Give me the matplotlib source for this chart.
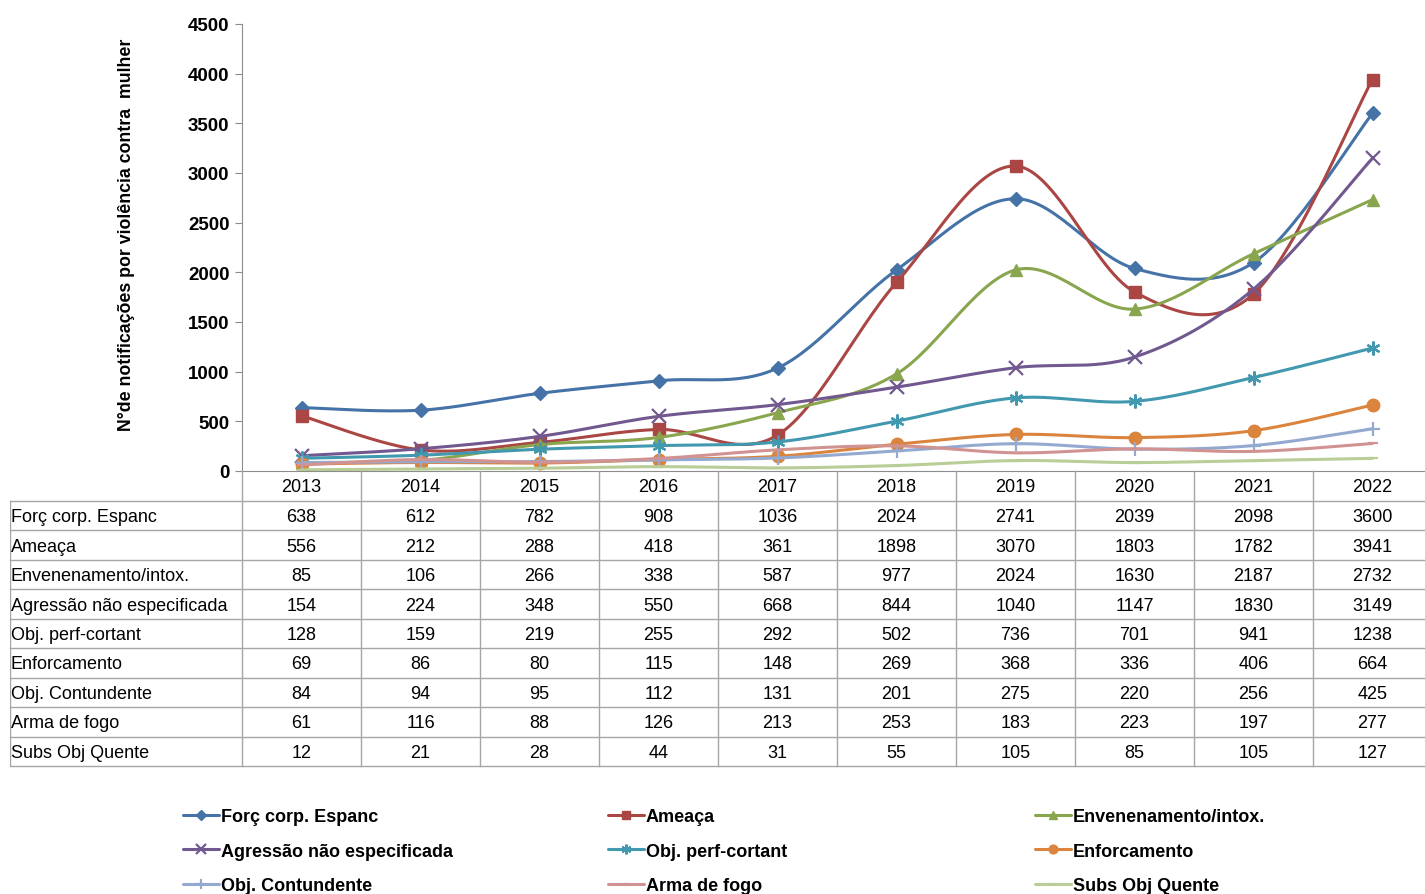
import numpy as np
import matplotlib.pyplot as plt

plt.rcParams['font.family'] = ['Liberation Sans', 'DejaVu Sans']

anos = ['2013', '2014', '2015', '2016', '2017', '2018', '2019', '2020', '2021', '2022']

forc_corp = [638, 612, 782, 908, 1036, 2024, 2741, 2039, 2098, 3600]
ameaca = [556, 212, 288, 418, 361, 1898, 3070, 1803, 1782, 3941]
envenenamento = [85, 106, 266, 338, 587, 977, 2024, 1630, 2187, 2732]
agressao = [154, 224, 348, 550, 668, 844, 1040, 1147, 1830, 3149]
perf_cortant = [128, 159, 219, 255, 292, 502, 736, 701, 941, 1238]
enforcamento = [69, 86, 80, 115, 148, 269, 368, 336, 406, 664]
contundente = [84, 94, 95, 112, 131, 201, 275, 220, 256, 425]
arma_fogo = [61, 116, 88, 126, 213, 253, 183, 223, 197, 277]
subs_quente = [12, 21, 28, 44, 31, 55, 105, 85, 105, 127]

nomes = ['Forç corp. Espanc', 'Ameaça', 'Envenenamento/intox.',
         'Agressão não especificada', 'Obj. perf-cortant', 'Enforcamento',
         'Obj. Contundente', 'Arma de fogo', 'Subs Obj Quente']
series = [forc_corp, ameaca, envenenamento, agressao, perf_cortant,
          enforcamento, contundente, arma_fogo, subs_quente]

cores = ['#4572A7', '#AA4643', '#89A54E', '#71588F', '#4198AF',
         '#DB843D', '#93A9CF', '#D19392', '#B9CD96']
marcadores = ['D', 's', '^', 'x', (6, 2, 0), 'o', '+', '_', '_']
tamanhos = [7.5, 8.5, 8.5, 10, 10, 9, 10, 7, 7]


def suavizar(y, n=30):
    # curva suave tipo Excel (Bezier cúbica pelos pontos vizinhos)
    x = np.arange(len(y), dtype=float)
    p = np.column_stack([x, np.asarray(y, dtype=float)])
    ext = np.vstack([p[0], p, p[-1]])
    t = np.linspace(0, 1, n, endpoint=False)[:, None]
    pts = []
    for i in range(len(p) - 1):
        p0, p1, p2, p3 = ext[i], ext[i + 1], ext[i + 2], ext[i + 3]
        c1 = p1 + (p2 - p0) / 6
        c2 = p2 - (p3 - p1) / 6
        seg = ((1 - t) ** 3) * p1 + 3 * ((1 - t) ** 2) * t * c1 \
            + 3 * (1 - t) * t ** 2 * c2 + t ** 3 * p2
        pts.append(seg)
    pts.append(p[-1][None, :])
    pts = np.vstack(pts)
    return pts[:, 0], pts[:, 1], n


fig = plt.figure(figsize=(14.25, 8.95), dpi=100)
W, H = 1425, 895
x0, x1 = 242, 1432
ytop, ybot = 25, 472
ax = fig.add_axes([x0 / W, 1 - ybot / H, (x1 - x0) / W, (ybot - ytop) / H])

for nome, vals, cor, mk, ms in zip(nomes, series, cores, marcadores, tamanhos):
    xs, ys, n = suavizar(vals)
    fino = mk in ('x', '+', '_') or isinstance(mk, tuple)
    ax.plot(xs, ys, color=cor, lw=2.2, marker=mk, markersize=ms,
            markevery=n, markeredgewidth=1.6 if fino else 1,
            markerfacecolor=cor, markeredgecolor=cor, label=nome,
            solid_capstyle='round', clip_on=False)

ax.set_xlim(-0.5, len(anos) - 0.5)
ax.set_ylim(0, 4500)
ax.set_yticks(np.arange(0, 4501, 500))
ax.set_xticks([])
for s in ['top', 'right']:
    ax.spines[s].set_visible(False)
ax.spines['left'].set_color('#8c8c8c')
ax.spines['bottom'].set_color('#8c8c8c')
ax.tick_params(axis='y', length=5, color='#8c8c8c', labelsize=13.5, pad=4)
for lb in ax.get_yticklabels():
    lb.set_fontweight('bold')
ax.set_ylabel('N°de notificações por violência contra  mulher',
              fontsize=12.8, fontweight='bold')
ax.yaxis.set_label_coords(-0.09, 0.53)

# tabela de dados abaixo do gráfico
tl, tr = 10, 1432
tt, tb = 472, 767
tax = fig.add_axes([tl / W, 1 - tb / H, (tr - tl) / W, (tb - tt) / H])
tax.set_xlim(tl, tr)
tax.set_ylim(tb, tt)
tax.axis('off')
col_w = (x1 - x0) / len(anos)
head_h = 30
row_h = (tb - tt - head_h) / len(nomes)
grid = '#a6a6a6'
for j in range(len(anos) + 1):
    tax.plot([x0 + j * col_w] * 2, [tt, tb], color=grid, lw=1, clip_on=False)
tax.plot([tl, tl], [tt + head_h, tb], color=grid, lw=1)
for i in range(len(nomes) + 1):
    y = tt + head_h + i * row_h
    tax.plot([tl, tr], [y, y], color=grid, lw=1, clip_on=False)
for j, a in enumerate(anos):
    tax.text(x0 + (j + 0.5) * col_w, tt + head_h / 2 + 1, a,
             ha='center', va='center', fontsize=13)
for i, (nome, vals) in enumerate(zip(nomes, series)):
    yc = tt + head_h + (i + 0.5) * row_h + 1
    tax.text(tl + 1, yc, nome, ha='left', va='center', fontsize=13)
    for j, v in enumerate(vals):
        tax.text(x0 + (j + 0.5) * col_w, yc, str(v),
                 ha='center', va='center', fontsize=13)

# legenda em três colunas, uma caixa por coluna
handles, labels = ax.get_legend_handles_labels()
colunas_x = [183, 608, 1035]
for c, xc in enumerate(colunas_x):
    idx = [c, c + 3, c + 6]
    fig.legend([handles[k] for k in idx], [labels[k] for k in idx],
               loc='upper left', bbox_to_anchor=(xc / W, 1 - 809 / H),
               frameon=False, handlelength=2.0, handletextpad=0.1,
               labelspacing=0.98, borderpad=0, borderaxespad=0,
               markerscale=0.7, prop={'weight': 'bold', 'size': 13})

fig.savefig('out.png', dpi=100)
